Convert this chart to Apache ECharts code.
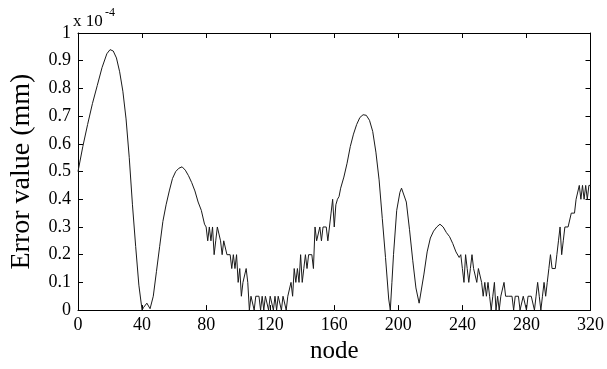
<!DOCTYPE html>
<html>
<head>
<meta charset="utf-8">
<script src="https://cdn.jsdelivr.net/npm/echarts@6/dist/echarts.min.js"></script>
<style>
html,body{margin:0;padding:0;background:#fff;}
#chart{width:607px;height:369px;}
</style>
</head>
<body>
<div id="chart"></div>
<script>
// node index
const nodes = [0,3,6,9,12,15,18,20,22,24,26,28,30,32,34,36,38,40,41,43,44,45,46,47,49,51,53,55,57,59,61,63,65,67,69,71,73,75,77,79,
80,81,82,83,84,85,86,87,88,89,90,91,92,93,94,95,96,97,98,99,100,101,102,103,104,105,106,107,108,109,110,
111,112,113,114,115,116,117,118,119,120,121,122,123,124,125,126,127,128,129,130,131,132,133,134,135,136,137,138,139,140,
141,142,143,144,145,146,147,148,149,150,151,152,153,154,155,156,157,158,159,160,161,162,163,164,166,168,170,172,174,176,178,180,
182,184,186,188,190,192,194,195,196,197,199,201,202,203,205,207,209,211,213,214,216,218,220,222,224,226,228,230,232,234,236,238,
239,240,241,242,243,244,245,246,247,248,249,250,251,252,253,254,255,256,257,258,259,260,261,262,263,264,265,266,267,268,269,270,
271,272,273,274,275,276,277,278,279,280,281,282,283,284,285,286,287,288,289,290,291,292,293,294,295,296,297,298,299,300,
301,302,303,304,305,306,307,308,309,310,311,312,313,314,315,316,317,318,319,320];
// error value (x 1e-4 mm)
const errorVals = [0.50,0.59,0.67,0.745,0.81,0.875,0.925,0.94,0.935,0.91,0.86,0.79,0.69,0.55,0.38,0.23,0.09,0.0,0.01,0.025,0.02,0.005,0.0,0.05,0.14,0.23,0.32,0.38,0.43,0.475,0.5,0.512,0.517,0.505,0.485,0.46,0.43,0.39,0.36,0.31,
0.3,0.25,0.3,0.25,0.3,0.2,0.25,0.3,0.3,0.25,0.2,0.25,0.25,0.2,0.2,0.2,0.15,0.2,0.15,0.2,0.1,0.15,0.05,0.1,0.1,0.15,0.1,0,0.05,0.05,0,
0.05,0.05,0.05,0,0.05,0,0.05,0.05,0,0.05,0.05,0,0.05,0,0.05,0.05,0,0.05,0.05,0,0.05,0.05,0.1,0.05,0.15,0.1,0.15,0.1,0.2,0.1,
0.15,0.2,0.15,0.2,0.2,0.2,0.15,0.3,0.25,0.25,0.3,0.25,0.3,0.3,0.3,0.25,0.25,0.35,0.4,0.3,0.38,0.4,0.41,0.44,0.48,0.53,0.59,0.635,0.67,0.695,0.705,0.703,
0.685,0.645,0.57,0.47,0.33,0.19,0.04,0.0,0.1,0.2,0.36,0.425,0.44,0.44,0.39,0.29,0.18,0.08,0.025,0.03,0.13,0.21,0.26,0.285,0.3,0.31,0.3,0.28,0.265,0.24,0.21,0.19,
0.2,0.15,0.1,0.2,0.15,0.1,0.15,0.2,0.15,0.15,0.1,0.15,0.15,0.1,0.05,0.1,0.05,0.1,0.05,0,0.05,0.1,0,0.05,0,0.05,0.05,0.1,0.05,0.05,0.05,0.05,
0.05,0,0.05,0.05,0.05,0,0,0.05,0.05,0,0.05,0.05,0.05,0.05,0,0.05,0.1,0.05,0,0.05,0.1,0.05,0.1,0.15,0.2,0.15,0.15,0.15,0.2,0.25,
0.3,0.2,0.25,0.3,0.3,0.3,0.3,0.35,0.35,0.35,0.4,0.4,0.45,0.4,0.45,0.4,0.45,0.4,0.45,0.45];

const xTitle = 'node';
const yTitle = 'Error value (mm)';
const scaleText = 'x 10';
const scaleExp = '-4';

const FONT = 'Liberation Serif';
const chart = echarts.init(document.getElementById('chart'), null, {renderer: 'canvas'});

const lineStyle = {color: '#000', width: 1};
const tickStyle = {show: true, inside: true, length: 5, lineStyle: {color: '#000', width: 1}};

chart.setOption({
  animation: false,
  backgroundColor: '#fff',
  grid: {left: 75, right: 15, top: 33, bottom: 52, containLabel: false},
  xAxis: [{
    type: 'value', min: 0, max: 320, interval: 40, position: 'bottom',
    name: xTitle, nameLocation: 'middle', nameGap: 22,
    nameTextStyle: {fontFamily: FONT, fontSize: 25, color: '#000'},
    axisLine: {show: true, onZero: false, lineStyle: lineStyle},
    axisTick: tickStyle,
    axisLabel: {fontFamily: FONT, fontSize: 18, color: '#000', margin: 6},
    splitLine: {show: false}
  }, {
    type: 'value', min: 0, max: 320, interval: 40, position: 'top',
    axisLine: {show: true, onZero: false, lineStyle: lineStyle},
    axisTick: tickStyle,
    axisLabel: {show: false},
    splitLine: {show: false}
  }],
  yAxis: [{
    type: 'value', min: 0, max: 1, interval: 0.1, position: 'left',
    name: yTitle, nameLocation: 'middle', nameGap: 42,
    nameTextStyle: {fontFamily: FONT, fontSize: 28, color: '#000'},
    axisLine: {show: true, onZero: false, lineStyle: lineStyle},
    axisTick: tickStyle,
    axisLabel: {fontFamily: FONT, fontSize: 18, color: '#000', margin: 7,
      formatter: v => (Math.round(v * 10) / 10).toString()},
    splitLine: {show: false}
  }, {
    type: 'value', min: 0, max: 1, interval: 0.1, position: 'right',
    axisLine: {show: true, onZero: false, lineStyle: lineStyle},
    axisTick: tickStyle,
    axisLabel: {show: false},
    splitLine: {show: false}
  }],
  graphic: [
    {type: 'text', left: 73, top: 13, style: {text: scaleText, fontFamily: FONT, fontSize: 17, fill: '#000'}},
    {type: 'text', left: 105, top: 7, style: {text: scaleExp, fontFamily: FONT, fontSize: 12, fill: '#000'}}
  ],
  series: [{
    type: 'line',
    xAxisIndex: 0, yAxisIndex: 0,
    data: nodes.map((n, i) => [n, errorVals[i]]),
    showSymbol: false,
    symbol: 'none',
    lineStyle: {color: '#1a1a1a', width: 1},
    silent: true
  }]
});
</script>
</body>
</html>
